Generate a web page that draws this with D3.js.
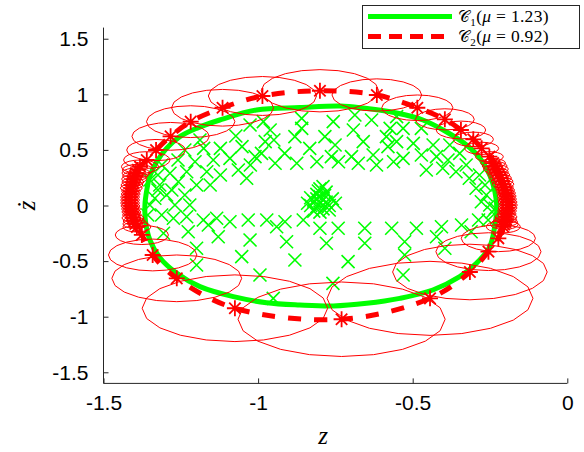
<!DOCTYPE html>
<html><head><meta charset="utf-8">
<script src="https://cdn.jsdelivr.net/npm/d3@7"></script>
<style>body{margin:0;background:#fff}svg{display:block}</style>
</head><body>
<svg id="c" width="584" height="452"></svg>
<script>
// ---- data ----
const xTicks = [-1.5, -1, -0.5, 0];
const yTicks = [-1.5, -1, -0.5, 0, 0.5, 1, 1.5];
const xDomain = [-1.5, 0];
const yDomain = [-1.6, 1.6];

// green limit cycle C1
const c1x = [-1.366,-1.360,-1.350,-1.328,-1.296,-1.253,-1.199,-1.124,-1.005,-0.865,-0.735,-0.661,-0.552,-0.467,-0.390,-0.326,-0.283,-0.251,-0.234,-0.228,-0.234,-0.251,-0.294,-0.348,-0.435,-0.542,-0.649,-0.757,-0.865,-0.973,-1.080,-1.188,-1.264,-1.317,-1.350,-1.364];
const c1y = [0.004,0.139,0.265,0.394,0.514,0.619,0.694,0.769,0.859,0.881,0.895,0.877,0.832,0.769,0.661,0.544,0.427,0.274,0.121,-0.022,-0.175,-0.371,-0.520,-0.640,-0.760,-0.835,-0.880,-0.904,-0.895,-0.874,-0.820,-0.730,-0.607,-0.472,-0.310,-0.148];

// red C2 sample points and uncertainty radii
const c2x = [-0.800,-0.616,-0.485,-0.396,-0.344,-0.304,-0.277,-0.252,
  -0.240,-0.235,-0.231,-0.226,-0.221,-0.216,-0.211,-0.208,-0.205,-0.201,-0.198,-0.196,-0.195,-0.193,-0.192,-0.193,-0.195,-0.196,-0.198,-0.199,-0.201,-0.204,
  -0.207,-0.223,-0.255,-0.315,-0.444,-0.730,-1.075,-1.263,-1.341,-1.376,
  -1.392,-1.397,-1.401,-1.405,-1.408,-1.410,-1.411,-1.413,-1.414,-1.414,-1.414,-1.412,-1.411,-1.410,-1.408,-1.405,-1.401,-1.398,-1.395,-1.389,
  -1.382,-1.360,-1.330,-1.283,-1.218,-1.115,-0.986];
const c2y = [1.032,0.994,0.879,0.775,0.679,0.595,0.514,0.439,
  0.382,0.355,0.328,0.301,0.274,0.247,0.219,0.192,0.166,0.139,0.112,0.085,0.058,0.031,0.004,-0.022,-0.049,-0.076,-0.103,-0.126,-0.148,-0.170,
  -0.191,-0.295,-0.415,-0.598,-0.835,-1.023,-0.924,-0.655,-0.445,-0.265,
  -0.193,-0.166,-0.139,-0.112,-0.085,-0.058,-0.031,-0.004,0.022,0.049,0.076,0.103,0.130,0.157,0.184,0.211,0.238,0.265,0.292,0.320,
  0.349,0.409,0.499,0.622,0.754,0.879,0.985];
const c2r = [0.19,0.145,0.115,0.095,0.08,0.065,0.055,0.045,
  0.04,0.04,0.04,0.035,0.035,0.035,0.035,0.035,0.03,0.03,0.03,0.03,0.03,0.03,0.03,0.03,0.03,0.03,0.035,0.035,0.04,0.045,
  0.055,0.12,0.17,0.25,0.333,0.335,0.30,0.21,0.143,0.086,
  0.045,0.04,0.035,0.035,0.03,0.03,0.03,0.03,0.03,0.03,0.03,0.03,0.03,0.035,0.035,0.035,0.04,0.04,0.045,0.05,
  0.06,0.075,0.095,0.125,0.143,0.165,0.175];

// green sample points (x marks)
const gx = [-0.859,-0.757,-0.687,-0.633,-0.961,-0.859,-0.692,-0.977,-0.881,-0.784,-0.751,-0.660,-0.585,-0.989,-0.914,-0.833,-0.763,-0.698,-0.628,-0.580,-0.945,-0.875,-0.810,-0.740,-0.676,-0.617,-1.010,
  -0.983,-1.072,-0.949,-1.052,-1.025,-1.122,-1.176,-1.145,-1.091,-1.064,-1.204,-1.231,-1.166,-1.122,-1.285,-1.258,-1.199,-1.155,-1.318,-1.296,-1.237,-1.334,-1.037,
  -0.531,-0.472,-0.552,-0.498,-0.434,-0.380,-0.531,-0.472,-0.423,-0.386,-0.348,-0.456,-0.403,-0.360,-0.327,-0.317,-0.284,-0.295,-0.262,-0.251,-0.278,-0.562,-0.573,-0.552,
  -0.266,-0.243,-0.256,-0.287,-0.233,
  -1.312,-1.274,-1.231,-1.177,-1.134,-1.091,-1.032,-0.972,-0.913,-0.854,-1.226,-1.161,-1.129,-1.026,-0.908,-1.199,-1.053,-0.881,-1.199,-0.994,-0.951,-1.306,-0.940,
  -0.800,-0.741,-0.655,-0.568,-0.488,-0.407,-0.342,-0.779,-0.655,-0.526,-0.423,-0.396,-0.709,-0.526,-0.311,-0.531,-0.758,
  -1.350,-1.324,-1.357,-1.269,-1.221,-1.279,-1.324,-1.350,-1.259,-1.311,-1.188,-1.026,-1.237,
  -0.800,-0.790,-0.810,-0.780,-0.820,-0.800,-0.770,-0.830,-0.790,-0.810,-0.780,-0.800,-0.840,-0.760,-0.820,-0.790,-0.750,-0.810,-0.785,-0.805,-0.830,-0.770,-0.800];
const gy = [0.784,0.754,0.814,0.769,0.679,0.694,0.679,0.574,0.619,0.619,0.544,0.574,0.619,0.469,0.469,0.514,0.439,0.439,0.454,0.529,0.380,0.380,0.394,0.394,0.380,0.364,0.439,
  0.754,0.625,0.589,0.529,0.364,0.514,0.514,0.409,0.424,0.319,0.394,0.304,0.304,0.274,0.290,0.214,0.184,0.184,0.184,0.094,0.094,0.065,0.245,
  0.694,0.694,0.574,0.559,0.544,0.544,0.424,0.454,0.439,0.409,0.469,0.319,0.335,0.304,0.364,0.245,0.274,0.155,0.094,0.004,0.034,0.394,0.694,0.799,
  0.184,-0.058,-0.130,-0.130,-0.025,
  -0.085,-0.115,-0.101,-0.130,-0.115,-0.146,-0.130,-0.130,-0.146,-0.130,-0.236,-0.175,-0.281,-0.310,-0.326,-0.385,-0.460,-0.490,-0.535,-0.625,-0.835,-0.250,-0.191,
  -0.205,-0.205,-0.205,-0.205,-0.205,-0.191,-0.175,-0.340,-0.340,-0.326,-0.281,-0.385,-0.505,-0.445,-0.236,-0.625,-0.700,
  0.004,0.139,-0.085,0.004,0.004,0.139,0.274,0.229,0.409,0.364,0.589,0.724,0.499,
  0.020,0.050,-0.010,0.030,0.040,0.080,0.000,0.000,-0.030,0.100,0.120,0.150,0.020,0.060,-0.050,0.170,0.020,0.060,0.090,0.130,0.070,-0.040,-0.060];

const legendLabels = [{name:"1", mu:"1.23"}, {name:"2", mu:"0.92"}];

// ---- chart ----
const GREEN = "#00ff00", RED = "#ff0000", AX = "#262626";
const svg = d3.select("#c");
const x = d3.scaleLinear().domain(xDomain).range([103.5, 567.3]);
const y = d3.scaleLinear().domain(yDomain).range([383.4, 27.6]);

// green x markers
const gm = svg.append("g");
const hs = 6.5;
gx.forEach((vx, i) => {
  const px = x(vx), py = y(gy[i]);
  gm.append("path")
    .attr("d", `M${px-hs},${py-hs}L${px+hs},${py+hs}M${px-hs},${py+hs}L${px+hs},${py-hs}`)
    .attr("stroke", GREEN).attr("stroke-width", 1.6).attr("fill", "none");
});

// green C1 curve
const c1 = c1x.map((v, i) => [v, c1y[i]]);
svg.append("path")
  .attr("d", d3.line().x(d => x(d[0])).y(d => y(d[1])).curve(d3.curveCatmullRomClosed)(c1))
  .attr("fill", "none").attr("stroke", GREEN).attr("stroke-width", 5);

// red uncertainty ellipses (polygons)
const ang = d3.range(21).map(k => k * 2 * Math.PI / 20);
const eg = svg.append("g");
c2x.forEach((vx, i) => {
  const pts = ang.map(a => [x(vx + c2r[i] * Math.cos(a)), y(c2y[i] + c2r[i] * Math.sin(a))]);
  eg.append("path").attr("d", d3.line()(pts))
    .attr("fill", "none").attr("stroke", RED).attr("stroke-width", 1);
});

// red dashed C2 curve
const c2 = c2x.map((v, i) => [v, c2y[i]]);
svg.append("path")
  .attr("d", d3.line().x(d => x(d[0])).y(d => y(d[1])).curve(d3.curveCatmullRomClosed)(c2))
  .attr("fill", "none").attr("stroke", RED).attr("stroke-width", 5).attr("stroke-dasharray", "13,13");

// asterisks
const am = svg.append("g");
const as = 8, ad = 5.7;
c2x.forEach((vx, i) => {
  const px = x(vx), py = y(c2y[i]);
  am.append("path")
    .attr("d", `M${px},${py-as}L${px},${py+as}M${px-as},${py}L${px+as},${py}M${px-ad},${py-ad}L${px+ad},${py+ad}M${px-ad},${py+ad}L${px+ad},${py-ad}`)
    .attr("stroke", RED).attr("stroke-width", 1.8).attr("fill", "none");
});

// axes
const ax = svg.append("g").attr("transform", `translate(0,${y(yDomain[0])})`)
  .call(d3.axisBottom(x).tickValues(xTicks).tickSize(-5).tickPadding(12).tickFormat(d => String(d)));
const ay = svg.append("g").attr("transform", `translate(${x(xDomain[0])},0)`)
  .call(d3.axisLeft(y).tickValues(yTicks).tickSize(-5).tickPadding(15).tickFormat(d => String(d)));
[ax, ay].forEach(g => {
  g.select(".domain").attr("stroke", AX).attr("stroke-width", 1).attr("d",
    g === ax ? `M${x(xDomain[0])},0H${x(xDomain[1])}` : `M0,${y(yDomain[1])}V${y(yDomain[0])}`);
  g.selectAll(".tick line").attr("stroke", AX);
  g.selectAll(".tick text").attr("fill", "#000").style("font-family", "'Liberation Sans', Arial, sans-serif").style("font-size", "21px");
});

// axis labels
svg.append("text").attr("x", 323).attr("y", 444).attr("text-anchor", "middle")
  .style("font-family", "'Liberation Serif', serif").style("font-style", "italic").style("font-size", "25px").text("z");
svg.append("text").attr("transform", `translate(35,${y(0)}) rotate(-90)`).attr("text-anchor", "middle")
  .style("font-family", "'Liberation Serif', serif").style("font-style", "italic").style("font-size", "25px").text("ż");

// legend
const lg = svg.append("g");
lg.append("rect").attr("x", 362.5).attr("y", 5.5).attr("width", 217).attr("height", 43)
  .attr("fill", "#fff").attr("stroke", AX).attr("stroke-width", 1);
legendLabels.forEach((L, i) => {
  const yy = 16.5 + i * 20;
  lg.append("line").attr("x1", 368).attr("x2", 452).attr("y1", yy).attr("y2", yy)
    .attr("stroke", i === 0 ? GREEN : RED).attr("stroke-width", 5)
    .attr("stroke-dasharray", i === 0 ? null : "13,8");
  const t = lg.append("text").attr("x", 458).attr("y", yy + 5.5)
    .style("font-family", "'Liberation Serif', serif").style("font-size", "17.5px")
    .attr("letter-spacing", "0.3");
  t.append("tspan").style("font-family", "'DejaVu Serif', serif").style("font-size", "16px").text("𝒞");
  t.append("tspan").style("font-size", "11px").attr("dy", 4).text(L.name);
  t.append("tspan").attr("dy", -4).text("(");
  t.append("tspan").style("font-style", "italic").text("μ");
  t.append("tspan").text(" = " + L.mu + ")");
});
</script>
</body></html>
